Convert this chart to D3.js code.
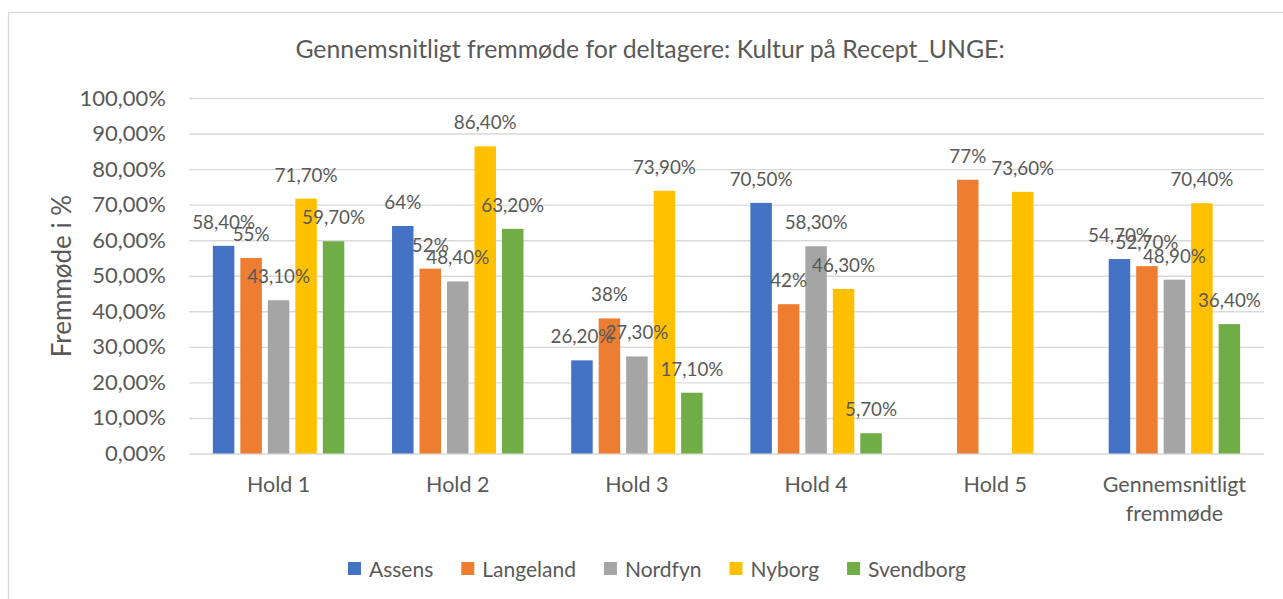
<!DOCTYPE html>
<html>
<head>
<meta charset="utf-8">
<script src="https://cdn.jsdelivr.net/npm/d3@7"></script>
<style>
  body { margin: 0; background: #fff; }
  svg { display: block; font-family: Lato, 'Open Sans', sans-serif; }
</style>
</head>
<body>
<div id="chart"></div>
<script>
// categories and series (values in %)
const categories = ['Hold 1', 'Hold 2', 'Hold 3', 'Hold 4', 'Hold 5', 'Gennemsnitligt fremmøde']
const seriesNames = ['Assens', 'Langeland', 'Nordfyn', 'Nyborg', 'Svendborg']
const assens = [58.4, 64, 26.2, 70.5, null, 54.7]
const langeland = [55, 52, 38, 42, 77, 52.7]
const nordfyn = [43.1, 48.4, 27.3, 58.3, null, 48.9]
const nyborg = [71.7, 86.4, 73.9, 46.3, 73.6, 70.4]
const svendborg = [59.7, 63.2, 17.1, 5.7, null, 36.4]
const seriesColors = ['#4472c4', '#ed7d31', '#a5a5a5', '#ffc000', '#70ad47']
const yTicks = [0, 10, 20, 30, 40, 50, 60, 70, 80, 90, 100]

const title = 'Gennemsnitligt fremmøde for deltagere: Kultur på Recept_UNGE:'
const yTitle = 'Fremmøde i %'

const width = 1283
const height = 599
const margin = { top: 98, right: 19, bottom: 145, left: 189 }
const textColor = '#595959'
const gridColor = '#d9d9d9'

const seriesValues = [assens, langeland, nordfyn, nyborg, svendborg]
const series = seriesNames.map((name, i) => ({ name, color: seriesColors[i], values: seriesValues[i] }))

const svg = d3.select('#chart').append('svg')
  .attr('width', width)
  .attr('height', height)

// chart area border
svg.append('rect')
  .attr('x', 8.5)
  .attr('y', 12.5)
  .attr('width', 1400)
  .attr('height', 700)
  .attr('fill', '#fff')
  .attr('stroke', gridColor)
  .attr('stroke-width', 1.3)

// title
svg.append('text')
  .attr('x', 650)
  .attr('y', 58)
  .attr('text-anchor', 'middle')
  .attr('fill', textColor)
  .style('font-size', '24.8px')
  .text(title)

const x0 = d3.scaleBand()
  .domain(categories)
  .range([margin.left, width - margin.right])
  .padding(0)

// bars inside a group take ~77% of the category width
const groupWidth = x0.bandwidth() * 0.767
const x1 = d3.scaleBand()
  .domain(seriesNames)
  .range([(x0.bandwidth() - groupWidth) / 2, (x0.bandwidth() + groupWidth) / 2])
  .paddingInner(0.218)
  .paddingOuter(0.109)

const y = d3.scaleLinear()
  .domain([0, 100])
  .range([height - margin.bottom - 0.5, margin.top])

const fmtTick = d => d.toFixed(2).replace('.', ',') + '%'
const fmtLabel = v => (v % 1 === 0 ? v + '%' : v.toFixed(2).replace('.', ',') + '%')

// y axis with gridlines
const yAxis = svg.append('g')
  .attr('transform', `translate(${margin.left},0)`)
  .call(d3.axisLeft(y)
    .tickValues(yTicks)
    .tickFormat(fmtTick)
    .tickSize(-(width - margin.left - margin.right))
    .tickPadding(23))
yAxis.select('.domain').remove()
yAxis.selectAll('line').attr('stroke', gridColor).attr('stroke-width', 1.4)
yAxis.selectAll('text')
  .attr('fill', textColor)
  .style('font-size', '22px')
  .style('font-family', 'Lato')

// y axis title
svg.append('text')
  .attr('transform', 'translate(71,276) rotate(-90)')
  .attr('text-anchor', 'middle')
  .attr('fill', textColor)
  .style('font-size', '26px')
  .text(yTitle)

// x axis (category labels)
const xAxis = svg.append('g')
  .attr('transform', `translate(0,${y(0)})`)
  .call(d3.axisBottom(x0).tickSize(0).tickPadding(23))
xAxis.select('.domain').remove()
xAxis.selectAll('text')
  .attr('fill', textColor)
  .style('font-size', '21.5px')
  .style('font-family', 'Lato')
  .call(wrap, x0.bandwidth() * 0.9)

function wrap (texts, maxWidth) {
  texts.each(function () {
    const text = d3.select(this)
    const words = text.text().split(/\s+/)
    const yy = text.attr('y')
    const dy = parseFloat(text.attr('dy'))
    let line = []
    let lineNo = 0
    let tspan = text.text(null).append('tspan').attr('x', 0).attr('y', yy).attr('dy', dy + 'em')
    words.forEach(w => {
      line.push(w)
      tspan.text(line.join(' '))
      if (tspan.node().getComputedTextLength() > maxWidth && line.length > 1) {
        line.pop()
        tspan.text(line.join(' '))
        line = [w]
        lineNo++
        tspan = text.append('tspan').attr('x', 0).attr('y', yy)
          .attr('dy', (dy + lineNo * 1.36) + 'em').text(w)
      }
    })
  })
}

// bars
const groups = svg.append('g').selectAll('g')
  .data(series)
  .join('g')
  .attr('fill', d => d.color)

groups.selectAll('rect')
  .data(d => d.values.map((v, i) => ({ name: d.name, cat: categories[i], v })).filter(e => e.v !== null))
  .join('rect')
  .attr('x', d => x0(d.cat) + x1(d.name))
  .attr('y', d => y(d.v))
  .attr('width', x1.bandwidth())
  .attr('height', d => y(0) - y(d.v))

// data labels drawn after all bars
const labels = svg.append('g')
  .attr('fill', textColor)
  .attr('text-anchor', 'middle')
  .style('font-size', '18.8px')
series.forEach(s => {
  labels.selectAll(null)
    .data(s.values.map((v, i) => ({ name: s.name, cat: categories[i], v })).filter(e => e.v !== null))
    .join('text')
    .attr('x', d => x0(d.cat) + x1(d.name) + x1.bandwidth() / 2)
    .attr('y', d => y(d.v) - 17)
    .text(d => fmtLabel(d.v))
})

// legend
const legend = svg.append('g')
  .attr('transform', 'translate(0,569)')
const items = legend.selectAll('g')
  .data(series)
  .join('g')
items.append('rect')
  .attr('y', -7)
  .attr('width', 13)
  .attr('height', 13)
  .attr('fill', d => d.color)
items.append('text')
  .attr('x', 21)
  .attr('y', 7.5)
  .attr('fill', textColor)
  .style('font-size', '21px')
  .text(d => d.name)

let offset = 0
const positions = []
items.each(function () {
  positions.push(offset)
  offset += 21 + d3.select(this).select('text').node().getComputedTextLength() + 28
})
const totalWidth = offset - 28
const legendStart = 657 - totalWidth / 2
items.attr('transform', (d, i) => `translate(${legendStart + positions[i]},0)`)
</script>
</body>
</html>
